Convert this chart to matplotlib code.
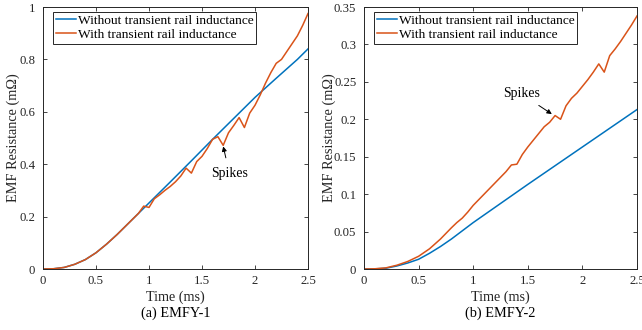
import matplotlib
matplotlib.use("Agg")
import matplotlib.pyplot as plt
import matplotlib.transforms as mtransforms

plt.rcParams['font.family'] = ['Liberation Serif', 'DejaVu Serif']

# ---- Data: (a) EMFY-1 ----
t_a_without = [0, 0.1, 0.2, 0.3, 0.4, 0.5, 0.6, 0.7, 0.8, 0.9, 1.0, 1.2, 1.4, 1.6, 1.8, 2.0, 2.2, 2.4, 2.5]
r_a_without = [0, 0.001, 0.006, 0.018, 0.036, 0.062, 0.095, 0.132, 0.172, 0.212, 0.252, 0.332, 0.413, 0.495,
               0.575, 0.655, 0.728, 0.800, 0.840]
t_a_with = [0, 0.1, 0.2, 0.3, 0.4, 0.5, 0.6, 0.7, 0.8, 0.9, 0.95, 1.0, 1.05, 1.1, 1.15, 1.2, 1.25, 1.3, 1.35,
            1.4, 1.45, 1.5, 1.55, 1.6, 1.65, 1.7, 1.75, 1.8, 1.85, 1.9, 1.95, 2.0, 2.05, 2.1, 2.15, 2.2,
            2.25, 2.3, 2.35, 2.4, 2.45, 2.5]
r_a_with = [0, 0.001, 0.006, 0.018, 0.036, 0.062, 0.095, 0.132, 0.172, 0.212, 0.240, 0.235, 0.268, 0.283,
            0.300, 0.315, 0.333, 0.355, 0.385, 0.366, 0.410, 0.430, 0.460, 0.495, 0.505, 0.472, 0.520,
            0.548, 0.578, 0.540, 0.595, 0.625, 0.665, 0.710, 0.750, 0.785, 0.800, 0.830, 0.860, 0.890,
            0.930, 0.975]

# ---- Data: (b) EMFY-2 ----
t_b_without = [0, 0.1, 0.2, 0.3, 0.4, 0.5, 0.6, 0.7, 0.8, 0.9, 1.0, 1.5, 2.0, 2.5]
r_b_without = [0, 0.0002, 0.001, 0.004, 0.008, 0.013, 0.021, 0.030, 0.040, 0.051, 0.062, 0.113, 0.163, 0.213]
t_b_with = [0, 0.1, 0.2, 0.3, 0.4, 0.5, 0.6, 0.7, 0.8, 0.85, 0.9, 0.95, 1.0, 1.1, 1.2, 1.3, 1.35, 1.4, 1.45,
            1.5, 1.55, 1.6, 1.65, 1.7, 1.75, 1.8, 1.85, 1.9, 1.95, 2.0, 2.05, 2.1, 2.15, 2.2, 2.25, 2.3,
            2.35, 2.4, 2.45, 2.5]
r_b_with = [0, 0.0003, 0.0015, 0.005, 0.010, 0.017, 0.027, 0.040, 0.055, 0.062, 0.068, 0.076, 0.085, 0.100,
            0.115, 0.130, 0.139, 0.140, 0.153, 0.163, 0.172, 0.181, 0.190, 0.196, 0.205, 0.200, 0.218,
            0.228, 0.235, 0.244, 0.253, 0.263, 0.274, 0.263, 0.285, 0.294, 0.304, 0.315, 0.326, 0.338]

x_ticks = [0, 0.5, 1, 1.5, 2, 2.5]
x_ticklabels = ["0", "0.5", "1", "1.5", "2", "2.5"]
y_ticks_a = [0, 0.2, 0.4, 0.6, 0.8, 1]
y_ticklabels_a = ["0", "0.2", "0.4", "0.6", "0.8", "1"]
y_ticks_b = [0, 0.05, 0.1, 0.15, 0.2, 0.25, 0.3, 0.35]
y_ticklabels_b = ["0", "0.05", "0.1", "0.15", "0.2", "0.25", "0.3", "0.35"]

label_without = "Without transient rail inductance"
label_with = "With transient rail inductance"
blue = "#0072BD"
orange = "#D95319"
spine_c = "#262626"

W, H = 642, 330
fig = plt.figure(figsize=(W / 100, H / 100), dpi=100)
ax1 = fig.add_axes([43 / W, 61 / H, 265 / W, 262 / H])
ax2 = fig.add_axes([364 / W, 61 / H, 273 / W, 262 / H])


def style(ax, yt, ytl, ymax, caption, ylab_x, leg_x):
    ax.set_xlim(0, 2.5)
    ax.set_ylim(0, ymax)
    ax.set_xticks(x_ticks)
    ax.set_xticklabels(x_ticklabels)
    ax.set_yticks(yt)
    ax.set_yticklabels(ytl)
    ax.tick_params(direction='in', top=True, right=True, length=3, width=0.6,
                   labelsize=9.2, color=spine_c, labelcolor=spine_c)
    ax.tick_params(axis='x', pad=4)
    ax.tick_params(axis='y', pad=5.5)
    for s in ax.spines.values():
        s.set_linewidth(0.7)
        s.set_color(spine_c)
    tr_x = mtransforms.blended_transform_factory(ax.transAxes, fig.transFigure)
    ax.text(0.5, (H - 297) / H, "Time (ms)", transform=tr_x, ha='center', va='center',
            fontsize=10.2, color=spine_c)
    ax.text(0.5, (H - 313) / H, caption, transform=tr_x, ha='center', va='center',
            fontsize=10.3, color='black')
    tr_y = mtransforms.blended_transform_factory(fig.transFigure, ax.transAxes)
    ax.text(ylab_x / W, 0.5, "EMF Resistance (mΩ)", transform=tr_y, rotation=90,
            ha='center', va='center', fontsize=10.3, color=spine_c)
    leg = ax.legend(loc='upper left', fontsize=9.6, frameon=True, fancybox=False,
                    edgecolor=spine_c, framealpha=1, handlelength=1.5, handletextpad=0.15,
                    borderpad=0.2, labelspacing=0.12, borderaxespad=0.0,
                    bbox_to_anchor=(leg_x, 0.981))
    leg.get_frame().set_linewidth(0.7)


ax1.plot(t_a_without, r_a_without, color=blue, lw=1.1, label=label_without)
ax1.plot(t_a_with, r_a_with, color=orange, lw=1.1, label=label_with)
style(ax1, y_ticks_a, y_ticklabels_a, 1, "(a) EMFY-1", 13, 0.038)
ax1.annotate("Spikes", xy=(1.70, 0.468), xytext=(1.76, 0.363), ha='center', va='center',
             fontsize=9.9,
             arrowprops=dict(arrowstyle='-|>', color='black', lw=0.7, mutation_scale=7,
                             shrinkA=5, shrinkB=0))

ax2.plot(t_b_without, r_b_without, color=blue, lw=1.1, label=label_without)
ax2.plot(t_b_with, r_b_with, color=orange, lw=1.1, label=label_with)
style(ax2, y_ticks_b, y_ticklabels_b, 0.35, "(b) EMFY-2", 329, 0.037)
ax2.annotate("Spikes", xy=(1.72, 0.207), xytext=(1.44, 0.234), ha='center', va='center',
             fontsize=9.9,
             arrowprops=dict(arrowstyle='-|>', color='black', lw=0.7, mutation_scale=7,
                             shrinkA=3, shrinkB=0))

fig.savefig("out.png", dpi=100)
